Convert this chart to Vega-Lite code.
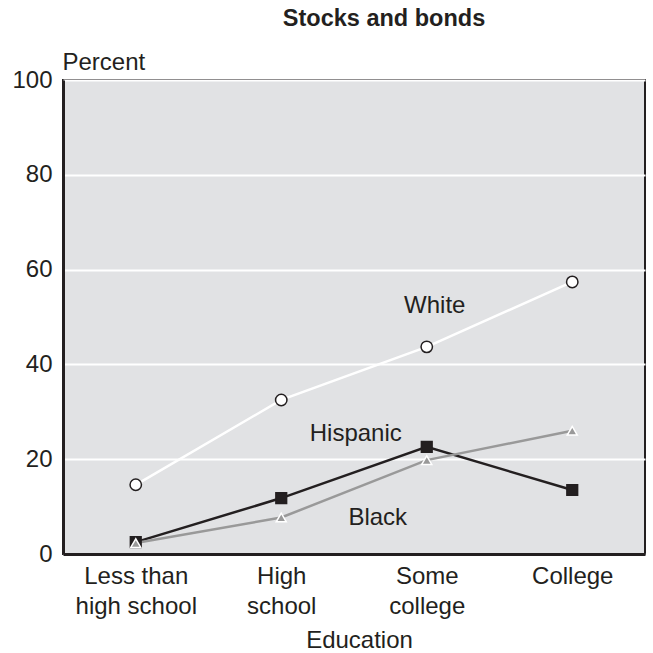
{
  "$schema": "https://vega.github.io/schema/vega-lite/v6.json",
  "width": 582,
  "height": 474,
  "autosize": {"type": "none"},
  "padding": {"left": 63, "top": 80, "right": 8, "bottom": 99},
  "background": "white",
  "title": {
    "text": "Stocks and bonds",
    "font": "Liberation Sans",
    "fontSize": 23.5,
    "fontWeight": "bold",
    "color": "#231f20",
    "anchor": "middle",
    "frame": "group",
    "dx": 30,
    "baseline": "alphabetic",
    "offset": 1
  },
  "config": {
    "font": "Liberation Sans",
    "view": {"fill": "#e1e2e4", "stroke": "#231f20", "strokeWidth": 2},
    "axis": {
      "labelFont": "Liberation Sans",
      "titleFont": "Liberation Sans",
      "labelColor": "#231f20",
      "titleColor": "#231f20",
      "labelFontSize": 24,
      "titleFontSize": 24,
      "titleFontWeight": "normal",
      "domainColor": "#231f20",
      "domainWidth": 3,
      "ticks": false
    }
  },
  "datasets": {
    "series": [
      {"education": "Less than high school", "group": "White", "percent": 14.6},
      {"education": "High school", "group": "White", "percent": 32.5},
      {"education": "Some college", "group": "White", "percent": 43.7},
      {"education": "College", "group": "White", "percent": 57.4},
      {"education": "Less than high school", "group": "Black", "percent": 2.5},
      {"education": "High school", "group": "Black", "percent": 11.8},
      {"education": "Some college", "group": "Black", "percent": 22.6},
      {"education": "College", "group": "Black", "percent": 13.5},
      {"education": "Less than high school", "group": "Hispanic", "percent": 2.3},
      {"education": "High school", "group": "Hispanic", "percent": 7.7},
      {"education": "Some college", "group": "Hispanic", "percent": 19.8},
      {"education": "College", "group": "Hispanic", "percent": 26.0}
    ]
  },
  "layer": [
    {
      "data": {"name": "series"},
      "mark": {"type": "line", "strokeWidth": 2.5},
      "encoding": {
        "x": {
          "field": "education",
          "type": "ordinal",
          "scale": {"type": "point", "padding": 0.5, "domain": ["Less than high school", "High school", "Some college", "College"]},
          "axis": {
            "title": "Education",
            "titleX": 296,
            "titleY": 93,
            "titleBaseline": "alphabetic",
            "labelAngle": 0,
            "labelPadding": 10,
            "labelBaseline": "top",
            "labelLineHeight": 30,
            "labelExpr": "datum.value == 'Less than high school' ? ['Less than', 'high school'] : datum.value == 'High school' ? ['High', 'school'] : datum.value == 'Some college' ? ['Some', 'college'] : datum.value",
            "grid": false
          }
        },
        "y": {
          "field": "percent",
          "type": "quantitative",
          "scale": {"domain": [0, 100], "nice": false},
          "axis": {
            "title": "Percent",
            "titleAngle": 0,
            "titleAlign": "left",
            "titleBaseline": "alphabetic",
            "titleX": -1,
            "titleY": -11,
            "values": [0, 20, 40, 60, 80, 100],
            "labelPadding": 11,
            "grid": true,
            "gridColor": "white",
            "gridWidth": 2,
            "gridOpacity": 1
          }
        },
        "color": {
          "field": "group",
          "type": "nominal",
          "scale": {"domain": ["White", "Black", "Hispanic"], "range": ["#ffffff", "#231f20", "#999999"]},
          "legend": null
        }
      }
    },
    {
      "data": {"name": "series"},
      "mark": {"type": "point", "filled": true, "strokeWidth": 1.5, "opacity": 1},
      "encoding": {
        "x": {"field": "education", "type": "ordinal"},
        "y": {"field": "percent", "type": "quantitative"},
        "shape": {
          "field": "group",
          "type": "nominal",
          "scale": {"domain": ["White", "Black", "Hispanic"], "range": ["circle", "square", "triangle-up"]},
          "legend": null
        },
        "fill": {
          "field": "group",
          "type": "nominal",
          "scale": {"domain": ["White", "Black", "Hispanic"], "range": ["#ffffff", "#231f20", "#999999"]},
          "legend": null
        },
        "stroke": {
          "field": "group",
          "type": "nominal",
          "scale": {"domain": ["White", "Black", "Hispanic"], "range": ["#231f20", "#231f20", "#ffffff"]},
          "legend": null
        },
        "size": {
          "field": "group",
          "type": "nominal",
          "scale": {"domain": ["White", "Black", "Hispanic"], "range": [130, 100, 200]},
          "legend": null
        }
      }
    },
    {
      "data": {"values": [{"label": "White", "education": "Some college", "percent": 52.3}]},
      "mark": {"type": "text", "fontSize": 24, "color": "#231f20", "baseline": "middle", "dx": 8},
      "encoding": {
        "x": {"field": "education", "type": "ordinal"},
        "y": {"field": "percent", "type": "quantitative"},
        "text": {"field": "label"}
      }
    },
    {
      "data": {"values": [{"label": "Hispanic", "education": "Some college", "percent": 25.3}]},
      "mark": {"type": "text", "fontSize": 24, "color": "#231f20", "baseline": "middle", "dx": -71},
      "encoding": {
        "x": {"field": "education", "type": "ordinal"},
        "y": {"field": "percent", "type": "quantitative"},
        "text": {"field": "label"}
      }
    },
    {
      "data": {"values": [{"label": "Black", "education": "Some college", "percent": 7.7}]},
      "mark": {"type": "text", "fontSize": 24, "color": "#231f20", "baseline": "middle", "dx": -49},
      "encoding": {
        "x": {"field": "education", "type": "ordinal"},
        "y": {"field": "percent", "type": "quantitative"},
        "text": {"field": "label"}
      }
    }
  ]
}
